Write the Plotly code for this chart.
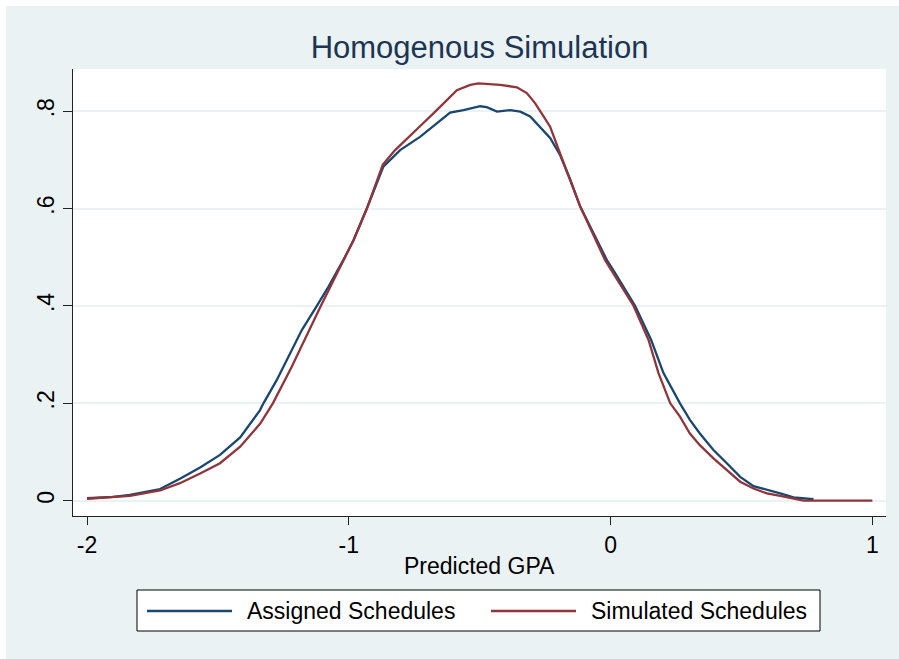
import plotly.graph_objects as go

# ---- data ----
assigned_x = [-2.000, -1.900, -1.836, -1.721, -1.645, -1.568, -1.492, -1.415, -1.339, -1.326,
              -1.276, -1.243, -1.180, -1.122, -1.078, -1.021, -0.982, -0.931, -0.868, -0.804,
              -0.747, -0.728, -0.664, -0.613, -0.562, -0.498, -0.473, -0.434, -0.384, -0.345,
              -0.307, -0.269, -0.231, -0.193, -0.154, -0.116, -0.052, -0.014, 0.018, 0.094,
              0.155, 0.202, 0.265, 0.303, 0.341, 0.393, 0.444, 0.495, 0.546, 0.597,
              0.648, 0.699, 0.775]
assigned_y = [0.005, 0.008, 0.012, 0.024, 0.045, 0.068, 0.094, 0.130, 0.186, 0.200,
              0.247, 0.282, 0.350, 0.400, 0.439, 0.494, 0.535, 0.600, 0.686, 0.720,
              0.741, 0.747, 0.775, 0.797, 0.802, 0.810, 0.808, 0.799, 0.802, 0.799,
              0.789, 0.768, 0.745, 0.710, 0.659, 0.604, 0.535, 0.494, 0.467, 0.400,
              0.330, 0.262, 0.200, 0.166, 0.138, 0.104, 0.077, 0.049, 0.030, 0.023,
              0.015, 0.007, 0.003]

simulated_x = [-2.000, -1.900, -1.836, -1.721, -1.645, -1.568, -1.492, -1.415, -1.339, -1.290,
               -1.218, -1.107, -1.021, -0.982, -0.931, -0.870, -0.823, -0.740, -0.728, -0.664,
               -0.651, -0.587, -0.536, -0.505, -0.422, -0.358, -0.320, -0.288, -0.256, -0.231,
               -0.193, -0.154, -0.116, -0.021, 0.011, 0.088, 0.145, 0.183, 0.228, 0.265,
               0.303, 0.341, 0.393, 0.444, 0.495, 0.546, 0.597, 0.648, 0.699, 0.737,
               1.000]
simulated_y = [0.004, 0.007, 0.010, 0.021, 0.036, 0.056, 0.077, 0.111, 0.158, 0.200,
               0.275, 0.400, 0.494, 0.535, 0.600, 0.690, 0.720, 0.761, 0.769, 0.802,
               0.809, 0.843, 0.854, 0.857, 0.854, 0.849, 0.837, 0.816, 0.789, 0.768,
               0.713, 0.659, 0.604, 0.494, 0.467, 0.400, 0.330, 0.262, 0.200, 0.1725,
               0.138, 0.114, 0.087, 0.063, 0.039, 0.025, 0.015, 0.0097, 0.0035, 0.0,
               0.0]

series_names = ["Assigned Schedules", "Simulated Schedules"]
x_tick_vals = [-2, -1, 0, 1]
x_tick_text = ["-2", "-1", "0", "1"]
y_tick_vals = [0, 0.2, 0.4, 0.6, 0.8]
y_tick_text = ["0", ".2", ".4", ".6", ".8"]
title_text = "Homogenous Simulation"
x_title = "Predicted GPA"

# ---- style ----
NAVY = "#1a476f"
MAROON = "#90353b"
BG = "#eaf2f3"
FONT = "Liberation Sans, Arial, sans-serif"

W, H = 899, 659
L, R, T, B = 73, 13, 69, 143
PW, PH = W - L - R, H - T - B


def px_x(p):
    return (p - L) / PW


def px_y(p):
    return (H - B - p) / PH


fig = go.Figure()
fig.add_trace(go.Scatter(x=assigned_x, y=assigned_y, mode="lines", name=series_names[0],
                         line=dict(color=NAVY, width=2.3), showlegend=False))
fig.add_trace(go.Scatter(x=simulated_x, y=simulated_y, mode="lines", name=series_names[1],
                         line=dict(color=MAROON, width=2.3), showlegend=False))

shapes = [
    # white strips at top/left of the image
    dict(type="rect", xref="paper", yref="paper", x0=px_x(-2), x1=px_x(W + 2), y0=px_y(6), y1=px_y(-2),
         fillcolor="white", line=dict(width=0), layer="above"),
    dict(type="rect", xref="paper", yref="paper", x0=px_x(-2), x1=px_x(6), y0=px_y(H + 2), y1=px_y(-2),
         fillcolor="white", line=dict(width=0), layer="above"),
    # legend box
    dict(type="rect", xref="paper", yref="paper", x0=px_x(137), x1=px_x(820), y0=px_y(631), y1=px_y(590),
         fillcolor="white", line=dict(color="black", width=1)),
    dict(type="line", xref="paper", yref="paper", x0=px_x(147), x1=px_x(232), y0=px_y(611), y1=px_y(611),
         line=dict(color=NAVY, width=2.3)),
    dict(type="line", xref="paper", yref="paper", x0=px_x(491), x1=px_x(576), y0=px_y(611), y1=px_y(611),
         line=dict(color=MAROON, width=2.3)),
]

annotations = [
    dict(text=series_names[0], xref="paper", yref="paper", x=px_x(245), y=px_y(611),
         xanchor="left", yanchor="middle", showarrow=False, font=dict(size=23, color="black", family=FONT)),
    dict(text=series_names[1], xref="paper", yref="paper", x=px_x(589), y=px_y(611),
         xanchor="left", yanchor="middle", showarrow=False, font=dict(size=23, color="black", family=FONT)),
    dict(text=x_title, xref="paper", yref="paper", x=0.5, y=px_y(566),
         xanchor="center", yanchor="middle", showarrow=False, font=dict(size=23, color="black", family=FONT)),
]

fig.update_layout(
    width=W, height=H,
    margin=dict(l=L, r=R, t=T, b=B),
    paper_bgcolor=BG, plot_bgcolor="white",
    font=dict(family=FONT, color="black", size=23),
    title=dict(text=title_text, x=0.5, xref="paper", y=1 - 47 / H, yref="container",
               xanchor="center", yanchor="middle", font=dict(size=31, color="#1c3552", family=FONT)),
    shapes=shapes, annotations=annotations,
    xaxis=dict(range=[-2.0535, 1.052], tickvals=x_tick_vals, ticktext=x_tick_text,
               showgrid=False, zeroline=False, showline=True, linecolor="#222", linewidth=1,
               ticks="outside", ticklen=8, tickcolor="#222", tickwidth=1,
               tickfont=dict(size=23, color="black")),
    yaxis=dict(range=[-0.0314, 0.8865], tickvals=y_tick_vals, ticktext=y_tick_text, tickangle=-90,
               showgrid=True, gridcolor=BG, gridwidth=2, zeroline=False, showline=True,
               linecolor="#222", linewidth=1, ticks="outside", ticklen=9, tickcolor="#222", tickwidth=1,
               tickfont=dict(size=23, color="black")),
)

fig.write_html("out.html", config={"displayModeBar": False},
               post_script="document.body.style.margin='0px';document.body.style.overflow='hidden';")
